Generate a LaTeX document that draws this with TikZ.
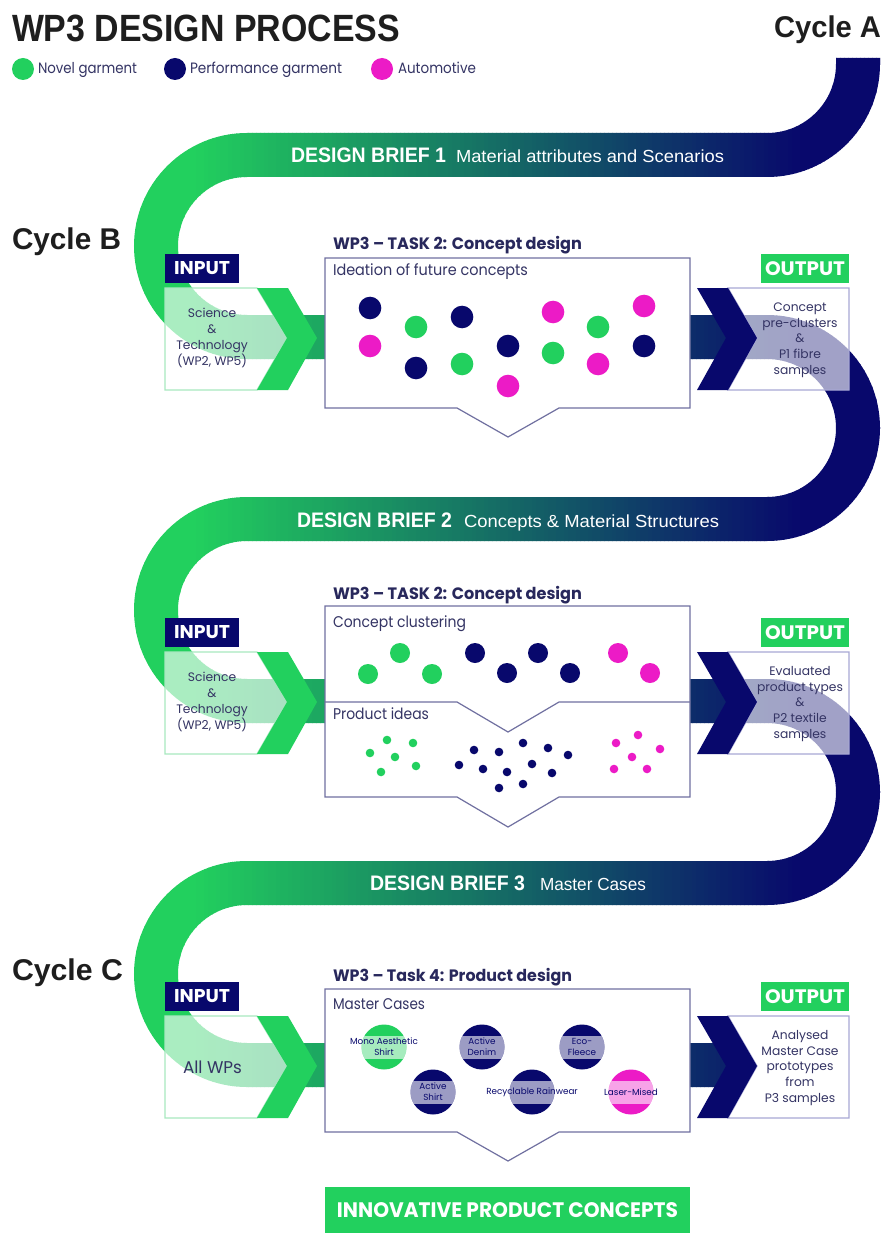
\documentclass[tikz,border=0pt]{standalone}
\usepackage{fontspec}
\setmainfont{Poppins}
\newfontfamily\arialf{Liberation Sans}
\definecolor{cgreen}{RGB}{34,208,94}
\definecolor{cnavy}{RGB}{8,8,108}
\definecolor{cmag}{RGB}{236,27,198}
\definecolor{ctext}{RGB}{52,52,100}
\definecolor{chead}{RGB}{40,40,92}
\definecolor{ctitle}{RGB}{30,30,30}
\definecolor{cbox}{RGB}{112,112,160}
\definecolor{cobox}{RGB}{168,168,212}
\definecolor{cibox}{RGB}{168,232,192}
\newcommand\fw[2]{\resizebox{#1pt}{\height}{#2}}
\def\bandpath{(858,58) -- (858,64) arc[start angle=0,end angle=90,radius=91]
 -- (247,155) arc[start angle=270,end angle=90,radius=91]
 -- (767,337) arc[start angle=-90,end angle=90,radius=91]
 -- (247,519) arc[start angle=270,end angle=90,radius=91]
 -- (767,701) arc[start angle=-90,end angle=90,radius=91]
 -- (247,883) arc[start angle=270,end angle=90,radius=91]
 -- (735,1065)}
\begin{document}
\begin{tikzpicture}[x=1pt,y=-1pt,
  every node/.style={inner sep=0pt,outer sep=0pt},
  ttl/.style={font=\arialf\bfseries\fontsize{38}{40}\selectfont,text=ctitle},
  cyc/.style={font=\arialf\bfseries\fontsize{30}{32}\selectfont,text=ctitle},
  legtxt/.style={font=\fontsize{15}{17}\selectfont,text=ctext,anchor=base west},
  briefa/.style={font=\arialf\bfseries\fontsize{21}{23}\selectfont,text=white,anchor=base west},
  briefb/.style={font=\arialf\fontsize{17.5}{19}\selectfont,text=white,anchor=base west},
  head/.style={font=\bfseries\fontsize{16.5}{19}\selectfont,text=chead,anchor=base west},
  sub/.style={font=\fontsize{15.5}{18}\selectfont,text=ctext,anchor=base west},
  boxtxt/.style={font=\fontsize{12.3}{15.7}\selectfont,text=ctext,align=center},
  lblin/.style={fill=cnavy,minimum width=74pt,minimum height=29pt,text=white,font=\bfseries\fontsize{18.5}{20}\selectfont},
  lblout/.style={fill=cgreen,minimum width=88pt,minimum height=29pt,text=white,font=\bfseries\fontsize{19.5}{21}\selectfont},
  cbx/.style={fill=white,draw=cbox,line width=1.2pt},
  mctxt/.style={font=\fontsize{8.8}{10.8}\selectfont,text=cnavy,align=center}]
\useasboundingbox (0,0) rectangle (885,1233);
\fill[white] (0,0) rectangle (885,1233);

% serpentine band with horizontal gradient
\foreach \i in {0,...,188}{
  \pgfmathsetmacro\xa{132+4*\i}
  \pgfmathtruncatemacro\pc{max(0,min(100,(\xa+2-190)/6.1))}
  \colorlet{bandc}{cnavy!\pc!cgreen}
  \begin{scope}
    \clip (\xa,50) rectangle ({\xa+4.6},1100);
    \draw[bandc,line width=44pt] \bandpath;
  \end{scope}
}

% title, legend, cycles
\node[ttl,anchor=base west] (title) at (12,42) {\fw{388}{WP3 DESIGN PROCESS}};
\node[cyc,anchor=base east] (cycA) at (881,38) {\fw{107}{Cycle A}};
\node[cyc,anchor=base west] (cycB) at (12,250) {\fw{109}{Cycle B}};
\node[cyc,anchor=base west] (cycC) at (12,980) {\fw{111}{Cycle C}};
\fill[cgreen] (23,69) circle[radius=11];
\fill[cnavy] (175,69) circle[radius=11];
\fill[cmag] (382,69) circle[radius=11];
\node[legtxt] (leg1) at (38,74) {\fw{99}{Novel garment}};
\node[legtxt] (leg2) at (190,74) {\fw{152}{Performance garment}};
\node[legtxt] (leg3) at (398,74) {\fw{78}{Automotive}};

% design briefs
\node[briefa] (b1a) at (291,163) {\fw{155}{DESIGN BRIEF 1}};
\node[briefb] (b1b) at (456,163) {\fw{268}{Material attributes and Scenarios}};
\node[briefa] (b2a) at (297,527) {\fw{155}{DESIGN BRIEF 2}};
\node[briefb] (b2b) at (464,527) {\fw{255}{Concepts \& Material Structures}};
\node[briefa] (b3a) at (370,890) {\fw{155}{DESIGN BRIEF 3}};
\node[briefb] (b3b) at (540,890) {\fw{106}{Master Cases}};

% input / output rows
\foreach \k/\yc in {1/337,2/701,3/1065}{
  \path[fill=white,fill opacity=0.62,draw=cibox,line width=1.2pt]
    (165,\yc-49) -- (257,\yc-49) -- (287,\yc+1) -- (257,\yc+53) -- (165,\yc+53) -- cycle;
  \fill[cgreen] (257,\yc-49) -- (288,\yc-49) -- (317,\yc+1) -- (288,\yc+53) -- (257,\yc+53) -- (287,\yc+1) -- cycle;
  \node[lblin] (in\k) at (202,\yc-68.5) {\fw{56}{INPUT}};
  \path[fill=white,fill opacity=0.62,draw=cobox,line width=1.2pt]
    (728,\yc-49) -- (849,\yc-49) -- (849,\yc+53) -- (728,\yc+53) -- (757,\yc+1) -- cycle;
  \fill[cnavy] (697,\yc-49) -- (728,\yc-49) -- (757,\yc+1) -- (728,\yc+53) -- (697,\yc+53) -- (726,\yc+1) -- cycle;
  \node[lblout] (out\k) at (805,\yc-68.5) {\fw{80}{OUTPUT}};
}
\node[boxtxt] (intx1) at (212,338) {Science\\\&\\Technology\\(WP2, WP5)};
\node[boxtxt] (intx2) at (212,702) {Science\\\&\\Technology\\(WP2, WP5)};
\node[font=\fontsize{17}{19}\selectfont,text=ctext,anchor=base west] (intx3) at (183,1073) {\fw{59}{All WPs}};
\node[boxtxt] (outx1) at (800,340) {Concept\\pre-clusters\\\&\\P1 fibre\\samples};
\node[boxtxt] (outx2) at (800,704) {Evaluated\\product types\\\&\\P2 textile\\samples};
\node[boxtxt] (outx3) at (800,1068) {Analysed\\Master Case\\prototypes\\from\\P3 samples};

% concept box 1
\path[cbx] (325,258) -- (690,258) -- (690,408) -- (559,408) -- (508,437) -- (457,408) -- (325,408) -- cycle;
\node[head] (h1) at (333,249) {\fw{249}{WP3 – TASK 2: Concept design}};
\node[sub] (s1) at (333,276) {\fw{195}{Ideation of future concepts}};
\foreach \x/\y in {370/308,416/368,462/317,508/346,644/346} \fill[cnavy] (\x,\y) circle[radius=11.3];
\foreach \x/\y in {370/346,508/386,553/312,598/364,644/306} \fill[cmag] (\x,\y) circle[radius=11.3];
\foreach \x/\y in {416/327,462/364,553/353,598/327} \fill[cgreen] (\x,\y) circle[radius=11.3];

% concept box 2
\path[cbx] (325,606) -- (690,606) -- (690,797) -- (559,797) -- (508,827) -- (457,797) -- (325,797) -- cycle;
\draw[cbox,line width=1.2pt] (325,702) -- (457,702) -- (508,732) -- (559,702) -- (690,702);
\node[head] (h2) at (333,599) {\fw{249}{WP3 – TASK 2: Concept design}};
\node[sub] (s2) at (333,627) {\fw{133}{Concept clustering}};
\node[sub] (s3) at (333,719) {\fw{96}{Product ideas}};
\foreach \x/\y in {368/674,400/653,432/674} \fill[cgreen] (\x,\y) circle[radius=10];
\foreach \x/\y in {475/653,507/673,538/653,570/673} \fill[cnavy] (\x,\y) circle[radius=10];
\foreach \x/\y in {618/653,650/673} \fill[cmag] (\x,\y) circle[radius=10];
\foreach \x/\y in {387/740,413/743,370/753,395/757,416/766,381/772} \fill[cgreen] (\x,\y) circle[radius=4.3];
\foreach \x/\y in {474/750,499/752,523/743,548/748,568/755,459/765,483/769,507/772,532/764,552/773,499/788,523/784} \fill[cnavy] (\x,\y) circle[radius=4.3];
\foreach \x/\y in {638/735,616/743,660/749,632/757,614/769,647/769} \fill[cmag] (\x,\y) circle[radius=4.3];

% concept box 3
\path[cbx] (325,989) -- (690,989) -- (690,1132) -- (559,1132) -- (508,1161) -- (457,1132) -- (325,1132) -- cycle;
\node[head] (h3) at (333,981) {\fw{239}{WP3 – Task 4: Product design}};
\node[sub] (s4) at (333,1009) {\fw{92}{Master Cases}};
\foreach \n/\cx/\cy/\cc/\txt in {m1/384/1047/cgreen/{Mono Aesthetic\\Shirt},
    m2/482/1047/cnavy/{Active\\Denim},
    m3/582/1047/cnavy/{Eco-\\Fleece},
    m4/433/1092/cnavy/{Active\\Shirt},
    m5/532/1092/cnavy/{Recyclable Rainwear},
    m6/631/1092/cmag/{Laser-Mised}}{
  \fill[\cc] (\cx,\cy) circle[radius=22.5];
  \begin{scope}
    \clip (\cx,\cy) circle[radius=22.5];
    \fill[white,opacity=0.6] (\cx-25,\cy-11.5) rectangle (\cx+25,\cy+12);
  \end{scope}
  \node[mctxt] (\n) at (\cx,\cy) {\txt};
}

% final box
\node[fill=cgreen,minimum width=365pt,minimum height=46pt,text=white,
  font=\bfseries\fontsize{21}{23}\selectfont] (final) at (507.5,1210) {\fw{341}{INNOVATIVE PRODUCT CONCEPTS}};
\end{tikzpicture}
\end{document}
